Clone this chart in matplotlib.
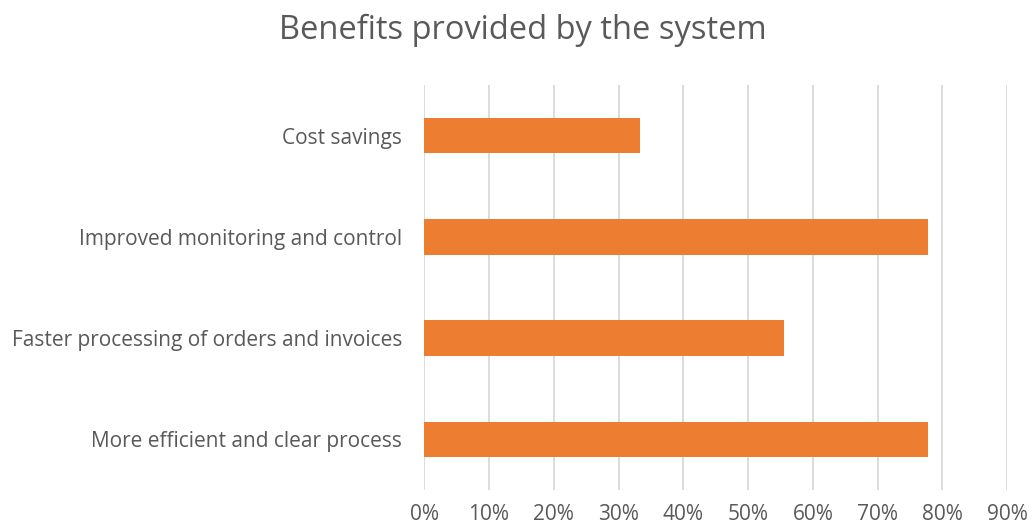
import matplotlib.pyplot as plt
from matplotlib.ticker import PercentFormatter

# Share of respondents naming each benefit (bottom to top)
categories = [
    'More efficient and clear process',
    'Faster processing of orders and invoices',
    'Improved monitoring and control',
    'Cost savings',
]
shares = [7 / 9, 5 / 9, 7 / 9, 1 / 3]
x_ticks = [i / 10 for i in range(10)]

text_color = '#595959'
plt.rcParams['font.family'] = ['Open Sans', 'DejaVu Sans']

fig = plt.figure(figsize=(10.32, 5.29), dpi=100)
ax = fig.add_axes([0.411, 0.074, 0.565, 0.765])

ax.barh(range(len(categories)), shares, height=0.35, color='#ED7D31', zorder=2)

ax.set_xlim(0, 0.9)
ax.set_ylim(-0.5, len(categories) - 0.5)
ax.set_xticks(x_ticks)
ax.xaxis.set_major_formatter(PercentFormatter(1.0, decimals=0))
ax.set_yticks(range(len(categories)), categories)

ax.grid(axis='x', color='#d9d9d9', linewidth=1.3, zorder=0)
for side in ax.spines.values():
    side.set_visible(False)
ax.tick_params(axis='both', length=0, labelsize=15, colors=text_color)
ax.tick_params(axis='x', pad=10)
ax.tick_params(axis='y', pad=16)

fig.text(0.507, 0.942, 'Benefits provided by the system', ha='center', va='center',
         fontsize=23.5, color=text_color)

fig.savefig('out.png', dpi=100)
